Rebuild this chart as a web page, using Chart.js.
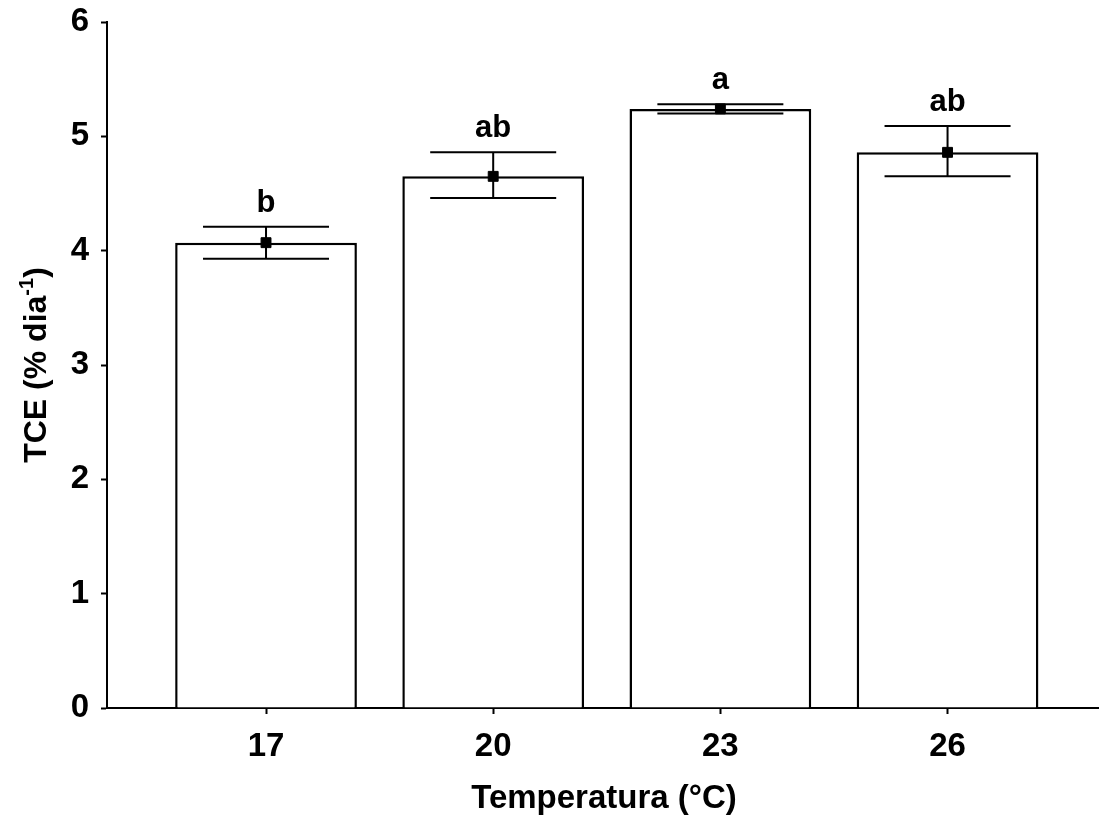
<!DOCTYPE html>
<html>
<head>
<meta charset="utf-8">
<script src="https://cdn.jsdelivr.net/npm/chart.js@4"></script>
<style>
  html, body { margin: 0; padding: 0; background: #fff; }
  #wrap { width: 1099px; height: 820px; }
</style>
</head>
<body>
<div id="wrap"><canvas id="chart" width="1099" height="820"></canvas></div>
<script>
const temps = [17, 20, 23, 26];
const tce = [4.07, 4.65, 5.24, 4.86];
const errHigh = [4.21, 4.86, 5.28, 5.09];
const errLow = [3.93, 4.46, 5.20, 4.65];
const letters = ["b", "ab", "a", "ab"];
const yTicks = [0, 1, 2, 3, 4, 5, 6];

const FONT = "Arial, 'Liberation Sans', sans-serif";

// error bars + significance letters
const errorPlugin = {
    id: "errorBars",
    afterDatasetsDraw(chart) {
        const ctx = chart.ctx;
        const x = chart.scales.x;
        const y = chart.scales.y;
        const capHalf = 63;
        ctx.save();
        ctx.strokeStyle = "#000";
        ctx.lineWidth = 2;
        temps.forEach((t, i) => {
            const px = x.getPixelForValue(t);
            const top = y.getPixelForValue(errHigh[i]);
            const bot = y.getPixelForValue(errLow[i]);
            ctx.beginPath();
            ctx.moveTo(px, top);
            ctx.lineTo(px, bot);
            ctx.moveTo(px - capHalf, top);
            ctx.lineTo(px + capHalf, top);
            ctx.moveTo(px - capHalf, bot);
            ctx.lineTo(px + capHalf, bot);
            ctx.stroke();

            ctx.fillStyle = "#000";
            ctx.font = "bold 31px " + FONT;
            ctx.textAlign = "center";
            ctx.textBaseline = "alphabetic";
            ctx.fillText(letters[i], px, top - 15);
        });
        ctx.restore();
    },
    afterDraw(chart) {
        const ctx = chart.ctx;
        const area = chart.chartArea;
        ctx.save();
        ctx.fillStyle = "#000";
        // x title
        ctx.font = "bold 33px " + FONT;
        ctx.textAlign = "center";
        ctx.textBaseline = "alphabetic";
        ctx.fillText("Temperatura (°C)", 604, 808);

        // y title with superscript
        ctx.translate(46, (area.top + area.bottom) / 2);
        ctx.rotate(-Math.PI / 2);
        const main = "TCE (% dia";
        const sup = "-1";
        const tail = ")";
        ctx.font = "bold 32px " + FONT;
        const wMain = ctx.measureText(main).width;
        const wTail = ctx.measureText(tail).width;
        ctx.font = "bold 20px " + FONT;
        const wSup = ctx.measureText(sup).width;
        let start = -(wMain + wSup + wTail) / 2;
        ctx.textAlign = "left";
        ctx.font = "bold 32px " + FONT;
        ctx.fillText(main, start, 0);
        ctx.font = "bold 20px " + FONT;
        ctx.fillText(sup, start + wMain, -13);
        ctx.font = "bold 32px " + FONT;
        ctx.fillText(tail, start + wMain + wSup, 0);
        ctx.restore();
    }
};

const ctx = document.getElementById("chart").getContext("2d");
const chart = new Chart(ctx, {
    type: "bar",
    data: {
        datasets: [
            {
                type: "scatter",
                data: temps.map((t, i) => ({ x: t, y: tce[i] })),
                pointStyle: "rect",
                pointRadius: 7,
                backgroundColor: "#000",
                borderColor: "#000",
                order: 0
            },
            {
                type: "bar",
                data: temps.map((t, i) => ({ x: t, y: tce[i] })),
                backgroundColor: "#fff",
                borderColor: "#000",
                borderWidth: 2.5,
                categoryPercentage: 1,
                barPercentage: 0.8,
                order: 1
            }
        ]
    },
    options: {
        responsive: false,
        animation: false,
        devicePixelRatio: 1,
        layout: { autoPadding: false, padding: { top: 22, right: 0, left: 0, bottom: 0 } },
        plugins: {
            legend: { display: false },
            tooltip: { enabled: false }
        },
        scales: {
            x: {
                type: "linear",
                min: 14.9,
                max: 28,
                offset: false,
                afterBuildTicks: scale => {
                    scale.ticks = temps.map(v => ({ value: v }));
                },
                afterFit: scale => {
                    scale.height = 112;
                    scale.paddingLeft = 0;
                    scale.paddingRight = 0;
                },
                grid: {
                    offset: false,
                    drawOnChartArea: false,
                    drawTicks: true,
                    tickLength: 6,
                    tickWidth: 2,
                    color: "#000"
                },
                border: { display: true, color: "#000", width: 2 },
                ticks: {
                    color: "#000",
                    font: { family: FONT, size: 33, weight: "bold" },
                    padding: 13,
                    maxRotation: 0
                }
            },
            y: {
                min: 0,
                max: 6,
                afterBuildTicks: scale => {
                    scale.ticks = yTicks.map(v => ({ value: v }));
                },
                afterFit: scale => {
                    scale.width = 107;
                    scale.paddingTop = 0;
                    scale.paddingBottom = 0;
                },
                grid: {
                    drawOnChartArea: false,
                    drawTicks: true,
                    tickLength: 6,
                    tickWidth: 2,
                    color: "#000"
                },
                border: { display: true, color: "#000", width: 2 },
                ticks: {
                    color: "#000",
                    font: { family: FONT, size: 33, weight: "bold" },
                    padding: 12
                }
            }
        }
    },
    plugins: [errorPlugin]
});
</script>
</body>
</html>
